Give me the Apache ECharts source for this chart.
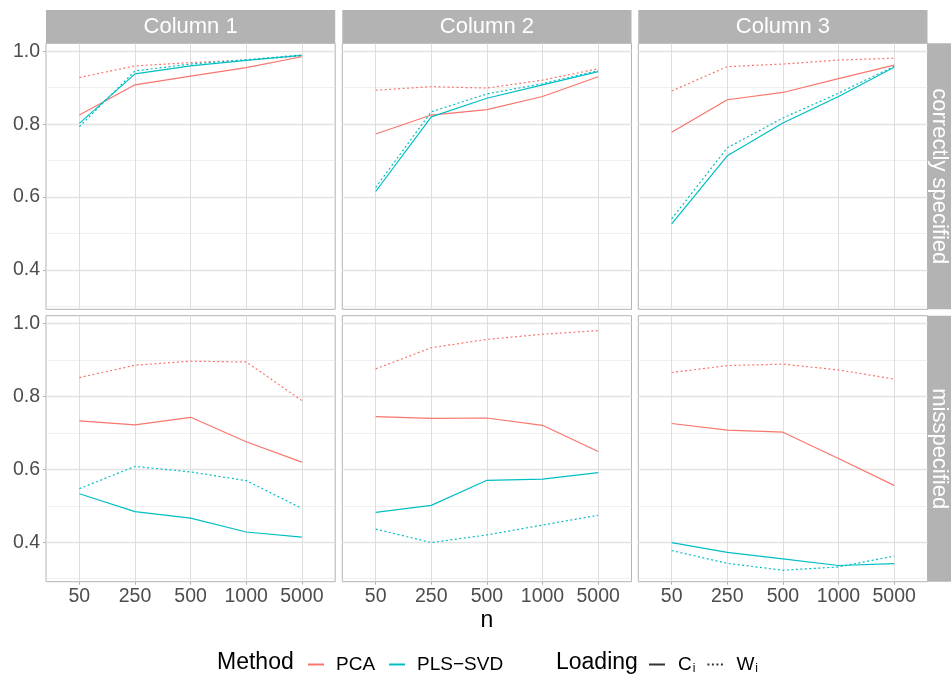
<!DOCTYPE html>
<html>
<head>
<meta charset="utf-8">
<title>Loadings by n</title>
<script src="https://cdn.jsdelivr.net/npm/echarts@6/dist/echarts.min.js"></script>
<style>
html, body { margin: 0; padding: 0; background: #fff; }
#chart { width: 951px; height: 677px; }
</style>
</head>
<body>
<div id="chart"></div>
<script>
// categories
const nLabels = ['50', '250', '500', '1000', '5000'];
const columns = ['Column 1', 'Column 2', 'Column 3'];
const rows = ['correctly specified', 'misspecified'];
const yMajor = [0.4, 0.6, 0.8, 1.0];
const yMinor = [0.3, 0.5, 0.7, 0.9];

// correctly specified row, one list per column
const correctPcaC = [
  [0.825, 0.908, 0.932, 0.955, 0.985],
  [0.773, 0.825, 0.840, 0.876, 0.930],
  [0.778, 0.867, 0.887, 0.925, 0.962]
];
const correctPcaW = [
  [0.928, 0.960, 0.969, 0.976, 0.987],
  [0.893, 0.903, 0.899, 0.921, 0.952],
  [0.891, 0.958, 0.965, 0.976, 0.981]
];
const correctPlsC = [
  [0.802, 0.938, 0.960, 0.975, 0.989],
  [0.615, 0.820, 0.871, 0.908, 0.944],
  [0.526, 0.713, 0.803, 0.876, 0.956]
];
const correctPlsW = [
  [0.793, 0.946, 0.965, 0.977, 0.990],
  [0.626, 0.834, 0.883, 0.911, 0.947],
  [0.540, 0.735, 0.817, 0.885, 0.959]
];

// misspecified row
const missPcaC = [
  [0.733, 0.722, 0.743, 0.676, 0.620],
  [0.745, 0.740, 0.741, 0.721, 0.649],
  [0.726, 0.708, 0.702, 0.630, 0.556]
];
const missPcaW = [
  [0.852, 0.886, 0.897, 0.895, 0.789],
  [0.876, 0.934, 0.957, 0.971, 0.981],
  [0.866, 0.885, 0.889, 0.873, 0.848]
];
const missPlsC = [
  [0.533, 0.484, 0.466, 0.428, 0.414],
  [0.482, 0.501, 0.570, 0.573, 0.591],
  [0.399, 0.372, 0.354, 0.336, 0.341]
];
const missPlsW = [
  [0.547, 0.608, 0.593, 0.569, 0.493],
  [0.436, 0.399, 0.420, 0.447, 0.474],
  [0.377, 0.342, 0.323, 0.332, 0.362]
];

const PCA_COLOR = '#F8766D';
const PLS_COLOR = '#00BFC4';
const FONT = 'Liberation Sans';
const dotted = [2, 2.5];

const gridLeft = [46, 342.3, 638.3];
const gridWidth = 289.2;
const rowTop = [43.3, 315.7];
const gridHeight = 266;

const panelData = [
  [correctPcaC, correctPcaW, correctPlsC, correctPlsW],
  [missPcaC, missPcaW, missPlsC, missPlsW]
];
const xPos = nLabels.map((d, i) => i + 1);

let grids = [], xAxes = [], yAxes = [], series = [], graphics = [];

for (let r = 0; r < 2; r++) {
  for (let c = 0; c < 3; c++) {
    const p = r * 3 + c;
    grids.push({
      left: gridLeft[c], top: rowTop[r], width: gridWidth, height: gridHeight,
      show: true, backgroundColor: '#fff', borderColor: '#b3b3b3', borderWidth: 1
    });
    xAxes.push({
      gridIndex: p, type: 'value', min: 0.4, max: 5.6,
      axisLine: { show: false },
      axisTick: { show: r === 1, customValues: xPos, length: 3, lineStyle: { color: '#b3b3b3' } },
      axisLabel: {
        show: r === 1, customValues: xPos, margin: 5,
        formatter: v => nLabels[Math.round(v) - 1],
        color: '#4d4d4d', fontSize: 19.5, fontFamily: FONT
      },
      splitLine: { show: true, lineStyle: { color: '#dedede', width: 1 } },
      name: (r === 1 && c === 1) ? 'n' : '',
      nameLocation: 'middle', nameGap: 27,
      nameTextStyle: { color: '#000', fontSize: 23, fontFamily: FONT }
    });
    yAxes.push({
      gridIndex: p, type: 'value', min: 0.2915, max: 1.022,
      axisLine: { show: false },
      axisTick: { show: c === 0, customValues: yMajor, length: 3, lineStyle: { color: '#b3b3b3' } },
      axisLabel: {
        show: c === 0, customValues: yMajor, margin: 6,
        formatter: v => v.toFixed(1),
        color: '#4d4d4d', fontSize: 19.5, fontFamily: FONT
      },
      splitLine: { show: true, lineStyle: { color: '#e3e3e3', width: 1.3 } }
    });
    yAxes.push({
      gridIndex: p, type: 'value', min: 0.2915, max: 1.022, position: 'left',
      axisLine: { show: false },
      axisTick: { show: false, customValues: yMinor },
      axisLabel: { show: false, customValues: yMinor },
      splitLine: { show: true, lineStyle: { color: '#e8e8e8', width: 0.7 } }
    });

    const [pcaC, pcaW, plsC, plsW] = panelData[r].map(s => s[c]);
    const lines = [
      { vals: pcaW, color: PCA_COLOR, type: dotted },
      { vals: pcaC, color: PCA_COLOR, type: 'solid' },
      { vals: plsW, color: PLS_COLOR, type: dotted },
      { vals: plsC, color: PLS_COLOR, type: 'solid' }
    ];
    lines.forEach((l, k) => {
      series.push({
        type: 'line', name: 'panel' + p + '_' + k,
        xAxisIndex: p, yAxisIndex: 2 * p,
        data: l.vals.map((v, i) => [xPos[i], v]),
        symbol: 'none', silent: true,
        lineStyle: { color: l.color, width: 1.2, type: l.type },
        itemStyle: { color: l.color }
      });
    });

    // strip on top
    if (r === 0) {
      graphics.push({
        type: 'rect', shape: { x: gridLeft[c], y: 10, width: gridWidth, height: 33.3 },
        style: { fill: '#b3b3b3' }
      });
      graphics.push({
        type: 'text', x: gridLeft[c] + gridWidth / 2, y: 27,
        style: { text: columns[c], fill: '#fff', font: '22px ' + FONT, align: 'center', verticalAlign: 'middle' }
      });
    }
  }
  // strip on right
  graphics.push({
    type: 'rect', shape: { x: 927.7, y: rowTop[r], width: 23.3, height: gridHeight },
    style: { fill: '#b3b3b3' }
  });
  graphics.push({
    type: 'text', x: 939.5, y: rowTop[r] + gridHeight / 2, rotation: -Math.PI / 2,
    style: { text: rows[r], fill: '#fff', font: '22px ' + FONT, align: 'center', verticalAlign: 'middle' }
  });
}

// legend key series (no data)
const keys = [
  { name: 'PCA', color: PCA_COLOR, type: 'solid' },
  { name: 'PLS\u2212SVD', color: PLS_COLOR, type: 'solid' },
  { name: 'Ci', color: '#333', type: 'solid' },
  { name: 'Wi', color: '#333', type: dotted }
];
keys.forEach(k => {
  series.push({
    type: 'line', name: k.name, xAxisIndex: 0, yAxisIndex: 0, data: [],
    symbol: 'none', lineStyle: { color: k.color, width: 1.2, type: k.type },
    itemStyle: { color: k.color }
  });
});

graphics.push({
  type: 'text', x: 217, y: 663,
  style: { text: 'Method', fill: '#000', font: '23px ' + FONT, verticalAlign: 'middle' }
});
graphics.push({
  type: 'text', x: 556, y: 663,
  style: { text: 'Loading', fill: '#000', font: '23px ' + FONT, verticalAlign: 'middle' }
});

const legendText = {
  color: '#000', fontSize: 19, fontFamily: FONT,
  rich: {
    b: { fontSize: 19, fontFamily: FONT, color: '#000' },
    s: { fontSize: 12, fontFamily: FONT, color: '#000', padding: [9, 0, 0, 1] }
  }
};

const myChart = echarts.init(document.getElementById('chart'));
myChart.setOption({
  animation: false,
  backgroundColor: '#fff',
  grid: grids,
  xAxis: xAxes,
  yAxis: yAxes,
  series: series,
  graphic: graphics,
  legend: [
    {
      data: ['PCA', 'PLS\u2212SVD'], left: 307, top: 655, padding: 0, orient: 'horizontal',
      itemWidth: 16, itemHeight: 14, itemGap: 13, selectedMode: false,
      itemStyle: { opacity: 0 },
      textStyle: Object.assign({ padding: [0, 0, 0, 7] }, legendText)
    },
    {
      data: ['Ci', 'Wi'], left: 648, top: 655, padding: 0, orient: 'horizontal',
      itemWidth: 16, itemHeight: 14, itemGap: 11, selectedMode: false,
      itemStyle: { opacity: 0 },
      formatter: name => '{b|' + name.charAt(0) + '}{s|i}',
      textStyle: Object.assign({ padding: [0, 0, 0, 8] }, legendText)
    }
  ]
});
</script>
</body>
</html>
